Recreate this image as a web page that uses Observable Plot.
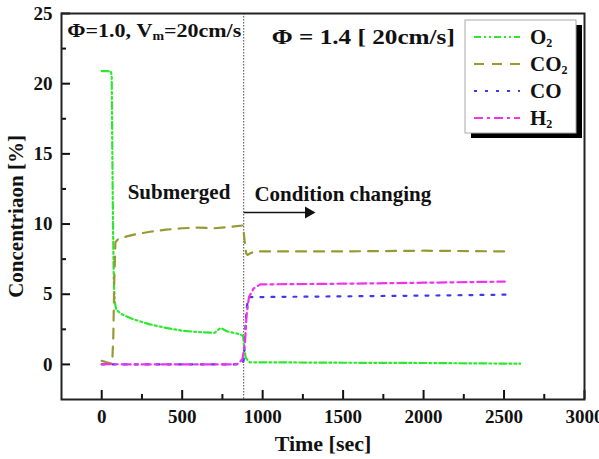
<!DOCTYPE html>
<html>
<head>
<meta charset="utf-8">
<script src="https://cdn.jsdelivr.net/npm/d3@7"></script>
<script src="https://cdn.jsdelivr.net/npm/@observablehq/plot@0.6"></script>
<style>
  body { margin: 0; background: #fff; }
  #chart svg { display: block; }
</style>
</head>
<body>
<div id="chart"></div>
<script>
// ---- data ----
const seriesNames = ["O2", "CO2", "CO", "H2"];
const legendBase = ["O", "CO", "CO", "H"];
const legendSub = ["2", "2", "", "2"];
const seriesColors = ["#2ee82e", "#999933", "#3b3bee", "#ee33ee"];
const seriesDash = ["7,3,2,3,2,3", "10,8", "3,8", "9,4,3,4"];

const o2Time = [0, 30, 56, 62, 66, 70, 75, 80, 90, 120, 200, 300, 400, 500, 600, 700, 740, 780, 840, 878, 886, 895, 920, 1000, 1500, 2000, 2600];
const o2Value = [20.9, 20.9, 20.9, 20.6, 15, 10, 6, 4.5, 3.9, 3.6, 3.2, 2.85, 2.6, 2.4, 2.3, 2.25, 2.6, 2.35, 2.2, 2.05, 1.2, 0.45, 0.15, 0.15, 0.12, 0.1, 0.05];

const co2Time = [0, 30, 65, 72, 78, 85, 100, 150, 200, 300, 400, 500, 600, 700, 800, 878, 888, 898, 905, 930, 965, 1200, 1500, 2000, 2505];
const co2Value = [0.25, 0.15, 0.05, 2, 6, 8.7, 8.9, 9.1, 9.25, 9.45, 9.6, 9.7, 9.75, 9.7, 9.8, 9.9, 8.8, 7.9, 7.8, 7.95, 8.05, 8.05, 8.05, 8.1, 8.05];

const coTime = [0, 200, 500, 870, 882, 890, 900, 912, 1000, 1500, 2000, 2525];
const coValue = [0, 0, 0, 0, 0.3, 2, 4, 4.8, 4.8, 4.85, 4.9, 4.97];

const h2Time = [0, 200, 500, 800, 850, 875, 890, 900, 915, 943, 985, 1500, 2000, 2505];
const h2Value = [0.02, 0, 0, 0, 0.05, 0.4, 1.5, 3.5, 4.8, 5.4, 5.7, 5.75, 5.82, 5.9];

const xMajor = [0, 500, 1000, 1500, 2000, 2500, 3000];
const xMinor = [250, 750, 1250, 1750, 2250, 2750];
const yMajor = [0, 5, 10, 15, 20, 25];
const yMinor = [2.5, 7.5, 12.5, 17.5, 22.5];

const switchTime = 882;
const notes = [
  {t: 161, v: 11.75, text: "Submerged"},
  {t: 949, v: 11.65, text: "Condition changing"}
];
const arrowFrom = {t: 882, v: 10.82};
const arrowTo = {t: 1285, v: 10.82};
const topLeftNote = {t: -211, v: 23.3};
const topRightNote = {t: 1060, v: 22.8, text: "Φ = 1.4 [ 20cm/s]"};

// ---- build ----
const FONT = "'Liberation Serif', 'Times New Roman', serif";
const series = [
  o2Time.map((t, i) => ({t, v: o2Value[i]})),
  co2Time.map((t, i) => ({t, v: co2Value[i]})),
  coTime.map((t, i) => ({t, v: coValue[i]})),
  h2Time.map((t, i) => ({t, v: h2Value[i]}))
];

function legend(index, scales, values, dims) {
  const g = d3.create("svg:g").attr("font-family", FONT).attr("font-weight", "bold").attr("text-anchor", "start");
  const bw = 111, bh = 113;
  const bx = dims.width - dims.marginRight - 119, by = dims.marginTop + 7;
  g.append("rect").attr("x", bx + 6).attr("y", by + 5).attr("width", bw).attr("height", bh).attr("fill", "#000");
  g.append("rect").attr("x", bx).attr("y", by).attr("width", bw).attr("height", bh)
    .attr("fill", "#fff").attr("stroke", "#aaa").attr("stroke-width", 1);
  seriesNames.forEach((name, i) => {
    const cy = by + 17 + i * 27;
    g.append("line").attr("x1", bx + 9).attr("x2", bx + 55).attr("y1", cy).attr("y2", cy)
      .attr("stroke", seriesColors[i]).attr("stroke-width", 2.2).attr("stroke-dasharray", seriesDash[i]);
    const t = g.append("text").attr("x", bx + 65).attr("y", cy + 7).attr("font-size", 21).attr("fill", "#111");
    t.append("tspan").text(legendBase[i]);
    if (legendSub[i]) t.append("tspan").attr("font-size", 12).attr("dy", 3).text(legendSub[i]);
  });
  return g.node();
}

function topNotes(index, scales) {
  const g = d3.create("svg:g").attr("font-family", FONT).attr("font-weight", "bold").attr("fill", "#111").attr("text-anchor", "start");
  const t = g.append("text").attr("x", scales.x(topLeftNote.t)).attr("y", scales.y(topLeftNote.v)).attr("font-size", 19)
    .attr("textLength", 174).attr("lengthAdjust", "spacingAndGlyphs");
  t.append("tspan").text("Φ=1.0, V");
  t.append("tspan").attr("font-size", 12).attr("dy", 3).text("m");
  t.append("tspan").attr("dy", -3).text("=20cm/s");
  g.append("text").attr("x", scales.x(topRightNote.t)).attr("y", scales.y(topRightNote.v)).attr("font-size", 21)
    .attr("textLength", 183).attr("lengthAdjust", "spacingAndGlyphs").text(topRightNote.text);
  return g.node();
}

const marks = [
  Plot.ruleX([switchTime], {stroke: "#666", strokeWidth: 1.2, strokeDasharray: "1.5,1.5"}),
  ...series.map((d, i) => Plot.line(d, {x: "t", y: "v", stroke: seriesColors[i], strokeWidth: 2.2, strokeDasharray: seriesDash[i]})),
  Plot.link([{}], {x1: () => arrowFrom.t, y1: () => arrowFrom.v, x2: () => arrowTo.t, y2: () => arrowTo.v, stroke: "#111", strokeWidth: 1.5}),
  Plot.dot([arrowTo], {x: "t", y: "v", symbol: "triangle", rotate: 90, r: 4.5, fill: "#111", stroke: "none"}),
  Plot.text(notes, {x: "t", y: "v", text: "text", textAnchor: "start", lineAnchor: "bottom", fontSize: 21, fontWeight: "bold", fontFamily: FONT, fill: "#111"}),
  topNotes,
  legend,
  Plot.axisX(xMajor, {tickSize: -9, fill: "none", label: null, strokeWidth: 2, stroke: "#111"}),
  Plot.axisX(xMinor, {tickSize: -5, fill: "none", label: null, strokeWidth: 2, stroke: "#111"}),
  Plot.axisY(yMajor, {tickSize: -9, fill: "none", label: null, strokeWidth: 2, stroke: "#111"}),
  Plot.axisY(yMinor, {tickSize: -5, fill: "none", label: null, strokeWidth: 2, stroke: "#111"}),
  Plot.axisX(xMajor, {tickSize: 0, tickPadding: 10, tickFormat: d => String(d), label: null, fontSize: 19, fontWeight: "bold", fontFamily: FONT, fill: "#111"}),
  Plot.axisY(yMajor, {tickSize: 0, tickPadding: 9, tickFormat: d => String(d), label: null, fontSize: 19, fontWeight: "bold", fontFamily: FONT, fill: "#111"}),
  Plot.text(["Time [sec]"], {frameAnchor: "bottom", dy: 51, lineAnchor: "bottom", fontSize: 22, fontWeight: "bold", fontFamily: FONT, fill: "#111"}),
  Plot.text(["Concentriaon [%]"], {frameAnchor: "left", textAnchor: "middle", dx: -39, dy: 10, rotate: -90, lineAnchor: "bottom", fontSize: 21, fontWeight: "bold", fontFamily: FONT, fill: "#111"}),
  Plot.frame({stroke: "#222", strokeWidth: 2})
];

const chart = Plot.plot({
  width: 599,
  height: 459,
  marginTop: 13,
  marginRight: 15,
  marginBottom: 60,
  marginLeft: 61,
  style: {background: "#fff", fontFamily: FONT, overflow: "visible"},
  x: {domain: [-250, 3000], axis: null},
  y: {domain: [-2.5, 25], axis: null},
  marks
});
document.getElementById("chart").appendChild(chart);
</script>
</body>
</html>
